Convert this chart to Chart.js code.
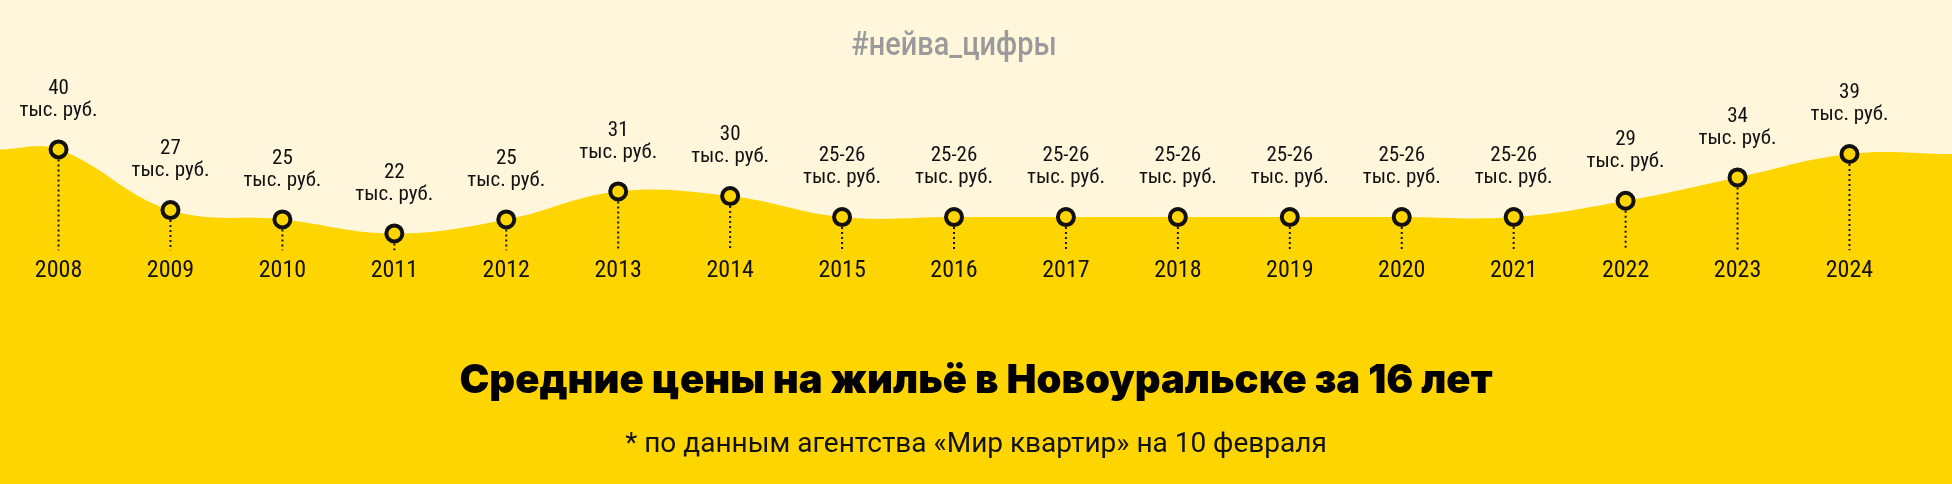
<!DOCTYPE html>
<html lang="ru">
<head>
<meta charset="utf-8">
<title>Средние цены на жильё в Новоуральске</title>
<script src="https://cdn.jsdelivr.net/npm/chart.js@4"></script>
<style>
  html, body { margin: 0; padding: 0; background: #FFD500; }
  #wrap { width: 1952px; height: 484px; position: relative; }
</style>
</head>
<body>
<div id="wrap"><canvas id="graficoPrecios"></canvas></div>
<script>
// datos
const years = [2008, 2009, 2010, 2011, 2012, 2013, 2014, 2015, 2016, 2017, 2018, 2019, 2020, 2021, 2022, 2023, 2024];
const prices = [40, 27, 25, 22, 25, 31, 30, 25.5, 25.5, 25.5, 25.5, 25.5, 25.5, 25.5, 29, 34, 39];
const priceLabels = ['40', '27', '25', '22', '25', '31', '30', '25-26', '25-26', '25-26', '25-26', '25-26', '25-26', '25-26', '29', '34', '39'];
const unitLabel = 'тыс. руб.';
const hashtag = '#нейва_цифры';
const titleText = 'Средние цены на жильё в Новоуральске за 16 лет';
const noteText = '* по данным агентства «Мир квартир» на 10 февраля';

const YELLOW = '#FFD500';
const CREAM = '#FFF6DC';
const NARROW = '"Roboto Condensed", "DejaVu Sans Condensed", Roboto, sans-serif';

const xMin = 2007.477, xMax = 2024.916;
const yMin = 18.36, yMax = 72;

const puntos = years.map((y, i) => ({ x: y, y: prices[i] }));

// linea punteada desde cada punto hasta abajo
const tallos = [];
years.forEach((y, i) => {
    tallos.push({ x: y, y: prices[i] }, { x: y, y: yMin }, { x: y, y: null });
});

// area: se extiende hasta los bordes
const area = [{ x: xMin, y: prices[0] }, ...puntos, { x: xMax, y: prices[prices.length - 1] }];

const fondo = {
    id: 'fondo',
    beforeDraw(chart) {
        const ctx = chart.ctx;
        ctx.save();
        ctx.fillStyle = YELLOW;
        ctx.fillRect(0, 0, chart.width, chart.height);
        ctx.fillStyle = CREAM;
        ctx.fillRect(0, 0, chart.width, chart.chartArea.top);
        ctx.restore();
    }
};

const etiquetas = {
    id: 'etiquetas',
    afterDatasetsDraw(chart) {
        const ctx = chart.ctx;
        const meta = chart.getDatasetMeta(0);
        ctx.save();
        ctx.textAlign = 'center';
        ctx.textBaseline = 'middle';
        ctx.fillStyle = '#111111';
        ctx.font = '21px ' + NARROW;
        meta.data.forEach((pt, i) => {
            ctx.fillText(priceLabels[i], pt.x, pt.y - 61);
            ctx.fillText(unitLabel, pt.x, pt.y - 39);
        });
        // hashtag arriba
        const cx = chart.scales.x.getPixelForValue(2016);
        ctx.translate(cx, 46);
        ctx.scale(0.85, 1);
        ctx.fillStyle = '#9A9A9A';
        ctx.font = '500 34px Roboto, sans-serif';
        ctx.fillText(hashtag, 0, 0);
        ctx.restore();
    }
};

const ctx = document.getElementById('graficoPrecios').getContext('2d');

new Chart(ctx, {
    type: 'line',
    data: {
        datasets: [
            {
                data: puntos,
                showLine: false,
                pointRadius: 8,
                pointBorderWidth: 4,
                pointBorderColor: '#111111',
                pointBackgroundColor: YELLOW
            },
            {
                data: tallos,
                spanGaps: false,
                borderColor: '#111111',
                borderWidth: 2,
                borderDash: [2, 3],
                pointRadius: 0
            },
            {
                data: area,
                tension: 0.4,
                fill: 'end',
                backgroundColor: CREAM,
                borderWidth: 0,
                borderColor: 'rgba(0,0,0,0)',
                pointRadius: 0
            }
        ]
    },
    options: {
        responsive: true,
        maintainAspectRatio: false,
        animation: false,
        events: [],
        layout: { padding: 0, autoPadding: false },
        plugins: {
            legend: { display: false },
            tooltip: { enabled: false },
            title: {
                display: true,
                position: 'bottom',
                weight: 1000,
                text: titleText,
                color: '#000000',
                font: { family: 'Inter, Roboto, sans-serif', size: 40, weight: '900', lineHeight: 1.2 },
                padding: { top: 66, bottom: 9 }
            },
            subtitle: {
                display: true,
                position: 'bottom',
                weight: 2000,
                text: noteText,
                color: '#111111',
                font: { family: 'Roboto, sans-serif', size: 28, weight: 'normal', lineHeight: 1.2 },
                padding: { top: 14, bottom: 22 }
            }
        },
        scales: {
            x: {
                type: 'linear',
                min: xMin,
                max: xMax,
                grid: { display: false, drawTicks: false },
                border: { display: false },
                afterBuildTicks: (scale) => {
                    scale.ticks = years.map(v => ({ value: v }));
                },
                afterFit: (scale) => {
                    scale.height = 41;
                },
                ticks: {
                    padding: 6,
                    color: '#111111',
                    autoSkip: false,
                    maxRotation: 0,
                    font: { family: NARROW, size: 24, lineHeight: 1.2 },
                    callback: (v) => String(v)
                }
            },
            y: {
                display: false,
                min: yMin,
                max: yMax
            }
        }
    },
    plugins: [fondo, etiquetas]
});
</script>
</body>
</html>
